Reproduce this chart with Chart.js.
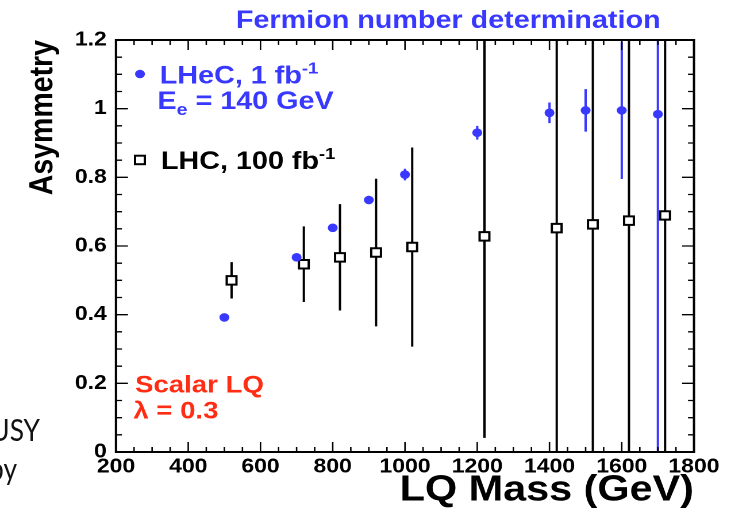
<!DOCTYPE html>
<html>
<head>
<meta charset="utf-8">
<script src="https://cdn.jsdelivr.net/npm/chart.js@4.4.1/dist/chart.umd.min.js"></script>
<style>
  html, body { margin: 0; padding: 0; background: #fff; }
  #wrap { position: relative; width: 731px; height: 509px; overflow: hidden; }
  #plot { position: absolute; left: 0; top: 0; }
  .slide { position: absolute; left: 0; font-family: Lato, "Open Sans", sans-serif; font-size: 31px; line-height: 31px; color: #111; white-space: nowrap; overflow: hidden; }
  .slide span { position: relative; display: inline-block; transform: scaleX(0.85); transform-origin: left; }
</style>
</head>
<body>
<div id="wrap">
  <canvas id="plot" width="636" height="509" style="width:731px;height:509px"></canvas>
  <div class="slide" style="top:414px; width:60px; height:36px;"><span style="left:-24px;">SUSY</span></div>
  <div class="slide" style="top:453px; width:60px; height:40px;"><span style="left:-11px;">by</span></div>
</div>
<script>
// LHeC (e-p, 1 fb^-1, Ee = 140 GeV)
const lhecMass = [500, 700, 800, 900, 1000, 1200, 1400, 1500, 1600, 1700];
const lhecAsym = [0.392, 0.567, 0.653, 0.734, 0.808, 0.930, 0.988, 0.995, 0.995, 0.984];
const lhecErr  = [0.004, 0.007, 0.008, 0.012, 0.017, 0.020, 0.030, 0.062, 0.200, 1.200];

// LHC (100 fb^-1), shifted by 20 GeV so the bars don't overlap
const lhcMass = [520, 720, 820, 920, 1020, 1220, 1420, 1520, 1620, 1720];
const lhcAsym = [0.500, 0.547, 0.567, 0.581, 0.597, 0.628, 0.652, 0.663, 0.674, 0.689];
const lhcErr  = [0.053, 0.110, 0.155, 0.215, 0.290, 0.587, 0.750, 0.750, 0.750, 0.750];

const xTicks = [200, 400, 600, 800, 1000, 1200, 1400, 1600, 1800];
const yTicks = [0, 0.2, 0.4, 0.6, 0.8, 1, 1.2];

const FONT = '"Liberation Sans", Arial, Helvetica, sans-serif';
const BLUE = '#3838ff';
const RED = '#ff2d14';

const toPoints = (xs, ys, es) => xs.map((x, i) => ({ x: x, y: ys[i], err: es[i] }));

function drawParts(ctx, x, y, parts, color) {
  ctx.fillStyle = color;
  ctx.textAlign = 'left';
  ctx.textBaseline = 'alphabetic';
  parts.forEach(p => {
    ctx.font = 'bold ' + p.size + 'px ' + FONT;
    ctx.fillText(p.t, x, y + (p.dy || 0));
    x += ctx.measureText(p.t).width;
  });
}

function drawFrame(chart) {
  const { ctx, chartArea: a, scales: { x, y } } = chart;
  ctx.save();
  ctx.setLineDash([]);
  ctx.globalAlpha = 1;
  ctx.strokeStyle = '#000';
  ctx.lineWidth = 2;
  ctx.strokeRect(a.left, a.top, a.right - a.left, a.bottom - a.top);

  // inward major/minor ticks on all four sides
  ctx.lineWidth = 1.3;
  ctx.beginPath();
  for (let v = 200; v <= 1800; v += 50) {
    const px = x.getPixelForValue(v);
    const len = v % 200 === 0 ? 10 : 5;
    ctx.moveTo(px, a.bottom); ctx.lineTo(px, a.bottom - len);
    ctx.moveTo(px, a.top); ctx.lineTo(px, a.top + len);
  }
  ctx.stroke();
  ctx.beginPath();
  for (let k = 0; k <= 24; k++) {
    const py = y.getPixelForValue(k * 0.05);
    const len = k % 4 === 0 ? 10.4 : 5.2;
    ctx.moveTo(a.left, py); ctx.lineTo(a.left + len, py);
    ctx.moveTo(a.right, py); ctx.lineTo(a.right - len, py);
  }
  ctx.stroke();
  ctx.restore();
}

function drawLabels(chart) {
  const ctx = chart.ctx;
  ctx.save();
  ctx.font = 'bold 25px ' + FONT;
  ctx.fillStyle = BLUE;
  ctx.textAlign = 'center';
  ctx.textBaseline = 'alphabetic';
  ctx.fillText('Fermion number determination', 390, 28);

  // legend
  ctx.beginPath();
  ctx.arc(121.8, 74, 4.3, 0, Math.PI * 2);
  ctx.fill();
  drawParts(ctx, 139, 83.5, [{ t: 'LHeC, 1 fb', size: 25 }, { t: '-1', size: 16, dy: -10 }], BLUE);
  drawParts(ctx, 137, 109, [{ t: 'E', size: 25 }, { t: 'e', size: 17, dy: 6 }, { t: ' = 140 GeV', size: 25 }], BLUE);

  ctx.fillStyle = '#fff';
  ctx.strokeStyle = '#000';
  ctx.lineWidth = 2;
  ctx.fillRect(117.5, 155.7, 8.5, 8.5);
  ctx.strokeRect(117.5, 155.7, 8.5, 8.5);
  drawParts(ctx, 140, 169, [{ t: 'LHC, 100 fb', size: 25 }, { t: '-1', size: 16, dy: -10 }], '#000');

  // model
  drawParts(ctx, 117.5, 392.5, [{ t: 'Scalar LQ', size: 24 }], RED);
  drawParts(ctx, 116, 418.5, [{ t: '\u03bb = 0.3', size: 24 }], RED);
  ctx.restore();
}

const rootStyle = {
  id: 'rootStyle',
  // vertical error bars, under the markers
  beforeDatasetsDraw(chart) {
    const { ctx, chartArea: a, scales: { x, y } } = chart;
    ctx.save();
    ctx.beginPath();
    ctx.rect(a.left, a.top, a.right - a.left, a.bottom - a.top);
    ctx.clip();
    ctx.lineWidth = 2;
    chart.data.datasets.forEach(ds => {
      ctx.strokeStyle = ds.errorColor;
      ds.data.forEach(p => {
        const px = x.getPixelForValue(p.x);
        ctx.beginPath();
        ctx.moveTo(px, y.getPixelForValue(p.y - p.err));
        ctx.lineTo(px, y.getPixelForValue(p.y + p.err));
        ctx.stroke();
      });
    });
    ctx.restore();
  },
  afterDraw(chart) {
    drawFrame(chart);
    drawLabels(chart);
  }
};

new Chart(document.getElementById('plot'), {
  type: 'scatter',
  data: {
    datasets: [
      {
        data: toPoints(lhecMass, lhecAsym, lhecErr),
        pointStyle: 'circle',
        pointRadius: 4.3,
        backgroundColor: BLUE,
        borderWidth: 0,
        errorColor: BLUE
      },
      {
        data: toPoints(lhcMass, lhcAsym, lhcErr),
        pointStyle: 'rect',
        pointRadius: 6,
        backgroundColor: '#fff',
        borderColor: '#000',
        borderWidth: 2,
        errorColor: '#000'
      }
    ]
  },
  options: {
    responsive: false,
    devicePixelRatio: 2,
    animation: false,
    events: [],
    layout: { padding: { top: 40, right: 32.2, bottom: 0, left: 0 } },
    plugins: { legend: { display: false }, tooltip: { enabled: false } },
    scales: {
      x: {
        type: 'linear',
        min: 200,
        max: 1800,
        afterBuildTicks: s => { s.ticks = xTicks.map(v => ({ value: v })); },
        afterFit: s => { s.height = 57; },
        grid: { display: false, drawTicks: false },
        border: { display: false },
        ticks: {
          color: '#000',
          padding: 3,
          maxRotation: 0,
          autoSkip: false,
          font: { family: FONT, size: 20, weight: 'bold' },
          callback: v => String(v)
        },
        title: {
          display: true,
          text: 'LQ Mass (GeV)',
          align: 'end',
          color: '#000',
          padding: { top: 0, bottom: 0.5 },
          font: { family: FONT, size: 36, weight: 'bold', lineHeight: 1 }
        }
      },
      y: {
        type: 'linear',
        min: 0,
        max: 1.2,
        afterBuildTicks: s => { s.ticks = yTicks.map(v => ({ value: v })); },
        afterFit: s => { s.width = 100.9; },
        grid: { display: false, drawTicks: false },
        border: { display: false },
        ticks: {
          color: '#000',
          padding: 8,
          autoSkip: false,
          font: { family: FONT, size: 20, weight: 'bold' },
          callback: v => String(+v.toFixed(1))
        },
        title: {
          display: true,
          text: 'Asymmetry',
          align: 'end',
          color: '#000',
          padding: { top: 23.3, bottom: 0 },
          font: { family: FONT, size: 28.5, weight: 'bold', lineHeight: 1 }
        }
      }
    }
  },
  plugins: [rootStyle]
});
</script>
</body>
</html>
